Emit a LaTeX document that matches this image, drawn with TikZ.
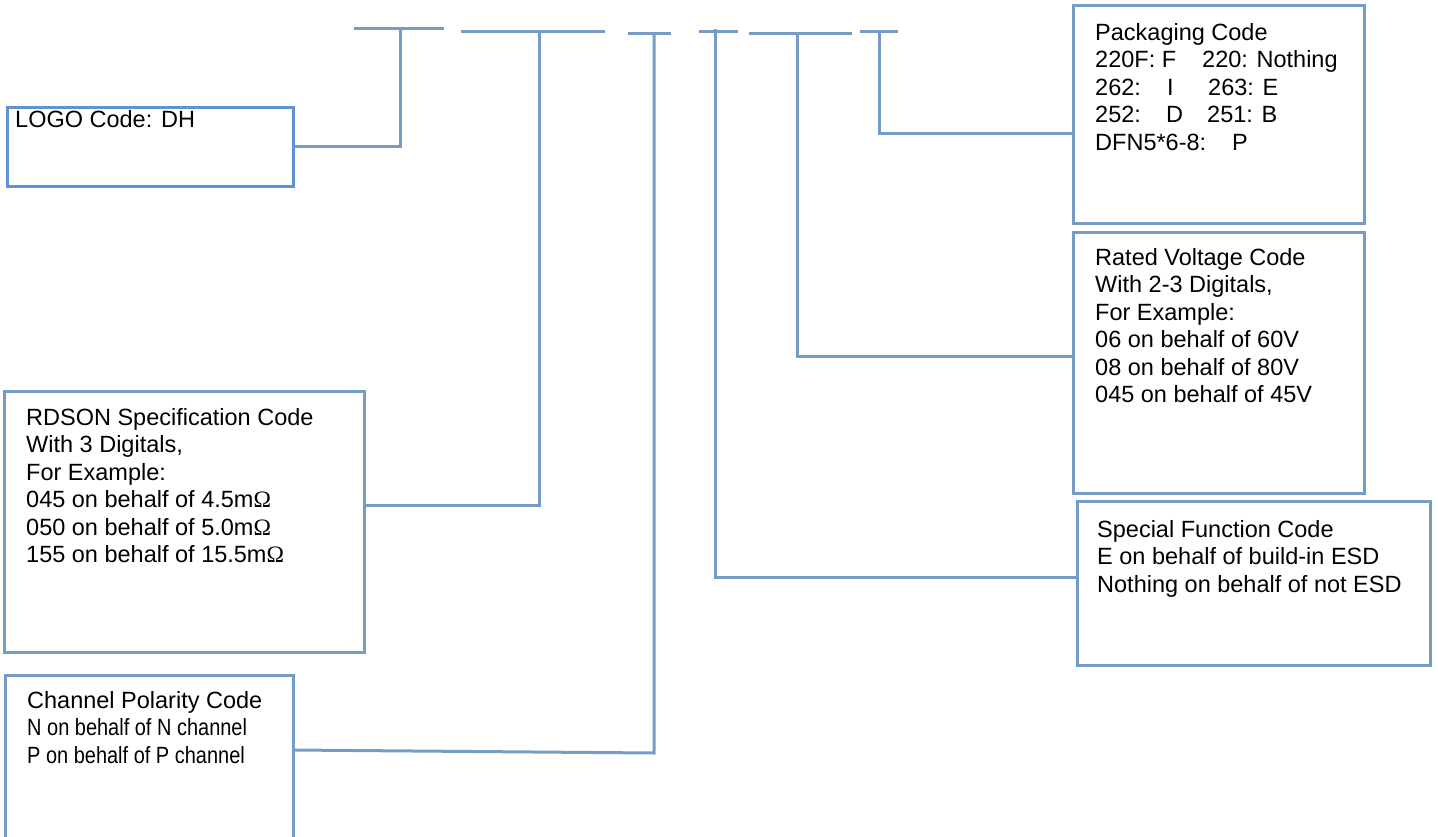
\documentclass[tikz,border=0pt]{standalone}
\usepackage{fontspec}
\setmainfont{Liberation Sans}
\newfontfamily\ohmfont{Liberation Serif}
\usetikzlibrary{positioning}
\definecolor{barblue}{RGB}{116,156,196}
\definecolor{logoblue}{RGB}{96,146,214}
\newcommand{\mOhm}{m{\ohmfont Ω}}
\newcommand{\tabto}[2]{\makebox[#1][l]{#2}}
\tikzset{
    node style code/.style={draw=barblue,line width=3pt,rectangle,inner sep=0pt,outer sep=0pt,anchor=north west},
    node style txt/.style={anchor=north west,align=left,inner sep=0pt,font=\fontsize{23.5}{27.5}\selectfont},
    line style bar/.style={draw=barblue,line width=3pt},
}

\begin{document}
\begin{tikzpicture}[x=1pt,y=-1pt]
\clip (0,0) rectangle (1438,836);

% code boxes
\node [node style code,draw=logoblue,minimum width=286pt,minimum height=79pt] (logo) at (7,107) {};
\node [node style code,minimum width=360pt,minimum height=261pt] (rdson) at (4,391) {};
\node [node style code,minimum width=288pt,minimum height=180pt] (chan) at (5,675) {};
\node [node style code,minimum width=291pt,minimum height=218pt] (pack) at (1073,5) {};
\node [node style code,minimum width=291pt,minimum height=261pt] (rated) at (1073,232) {};
\node [node style code,minimum width=353pt,minimum height=164pt] (spec) at (1077,501) {};

% texts
\node [node style txt] (logo txt) at (15,110) {LOGO Code: DH};
\node [node style txt] (rdson txt) at (26,408) {RDSON Specification Code\\
    With 3 Digitals,\\
    For Example:\\
    045 on behalf of 4.5\mOhm\\
    050 on behalf of 5.0\mOhm\\
    155 on behalf of 15.5\mOhm};
\node [node style txt] (chan txt) at (27,691) {Channel Polarity Code\\
    \scalebox{0.85}[1]{N on behalf of N channel}\\
    \scalebox{0.85}[1]{P on behalf of P channel}};
\node [node style txt] (pack txt) at (1095,23) {Packaging Code\\
    \tabto{107pt}{220F: F}220: Nothing\\
    \tabto{72pt}{262:}\tabto{41pt}{I}263: E\\
    \tabto{71pt}{252:}\tabto{41pt}{D}251: B\\
    \tabto{137pt}{DFN5*6-8:}P};
\node [node style txt] (rated txt) at (1095,248) {Rated Voltage Code\\
    With 2-3 Digitals,\\
    For Example:\\
    06 on behalf of 60V\\
    08 on behalf of 80V\\
    045 on behalf of 45V};
\node [node style txt] (spec txt) at (1097,520) {Special Function Code\\
    E on behalf of build-in ESD\\
    Nothing on behalf of not ESD};

% part number bars
\coordinate (t logo) at (400,28);
\coordinate (t rdson) at (539,31);
\coordinate (t chan) at (654,33);
\coordinate (t spec) at (715,29);
\coordinate (t rated) at (797,33);
\coordinate (t pack) at (879,31);
\draw [line style bar] (354,28)--(444,28);
\draw [line style bar] (461,31)--(605,31);
\draw [line style bar] (628,33)--(671,33);
\draw [line style bar] (699,31)--(738,31);
\draw [line style bar] (749,33)--(852,33);
\draw [line style bar] (860,31)--(898,31);

% connectors
\draw [line style bar] (t logo) |- (logo.east);
\draw [line style bar] (t rdson) |- (rdson.east |- 0,505);
\draw [line style bar] (t chan) -- (654,753) -- (chan.east |- 0,750);
\draw [line style bar] (t spec) |- (spec.west |- 0,577);
\draw [line style bar] (t rated) |- (rated.west |- 0,356);
\draw [line style bar] (t pack) |- (pack.west |- 0,133);

\end{tikzpicture}
\end{document}
